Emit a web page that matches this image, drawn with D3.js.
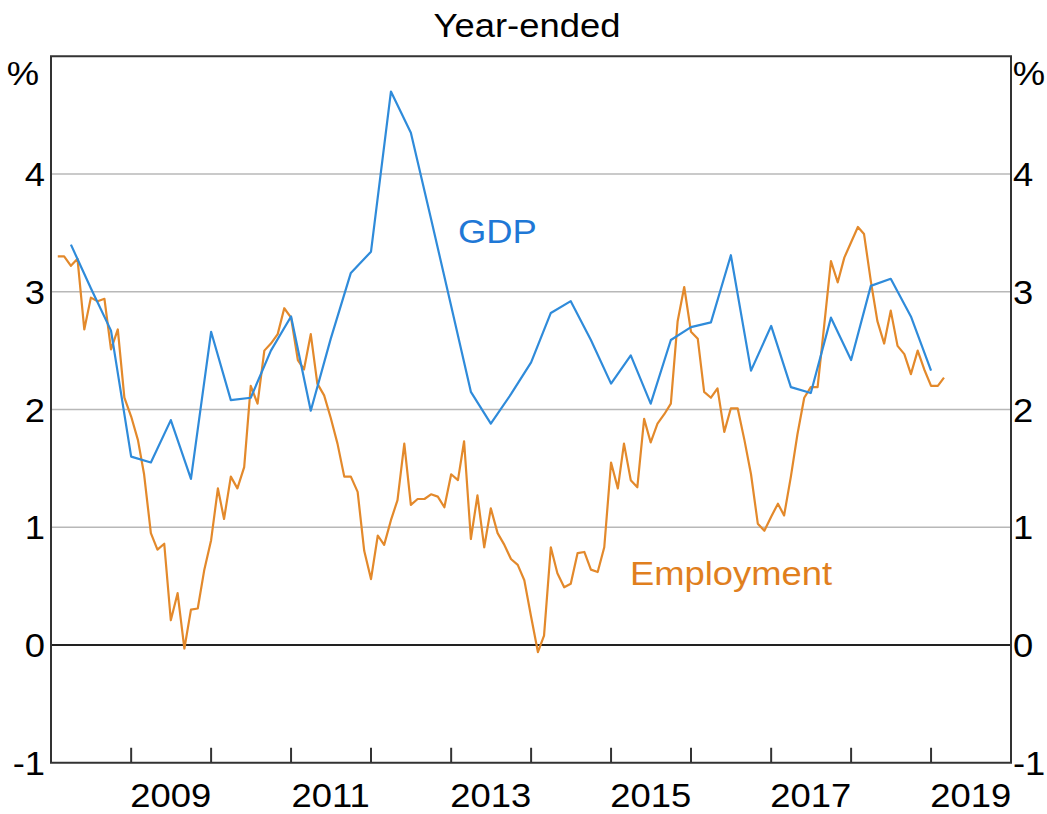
<!DOCTYPE html>
<html lang="en">
    <head>
        <meta charset="UTF-8">
        <title>GDP and Employment</title>
        <style>
            body { margin: 0; background: #fff; }
            text { font-family: "Liberation Sans", Arial, sans-serif; font-size: 34px; fill: #000; }
            .grid { stroke: #b8b8b8; stroke-width: 1.5; }
            .zero { stroke: #222; stroke-width: 2; }
            .frame { fill: none; stroke: #333; stroke-width: 2; }
            .tick { stroke: #333; stroke-width: 2; }
        </style>
    </head>
    <body>
        <script src="https://d3js.org/d3.v7.min.js"></script>
        <script>
            const width = 1047;
            const height = 814;

            // year-ended growth, %
            // employment: monthly, Jan 2008 - Feb 2019
            const employment = [
                3.30, 3.30, 3.22, 3.28, 2.68, 2.95, 2.92, 2.94, 2.51, 2.68, 2.10, 1.94,
                1.74, 1.45, 0.95, 0.81, 0.86, 0.21, 0.44, -0.03, 0.30, 0.31, 0.64, 0.89,
                1.33, 1.07, 1.43, 1.33, 1.51, 2.20, 2.05, 2.50, 2.56, 2.64, 2.86, 2.78,
                2.42, 2.34, 2.64, 2.22, 2.12, 1.93, 1.71, 1.43, 1.43, 1.30, 0.80, 0.56,
                0.93, 0.85, 1.06, 1.23, 1.71, 1.19, 1.24, 1.24, 1.28, 1.26, 1.17, 1.45,
                1.40, 1.73, 0.90, 1.27, 0.83, 1.16, 0.95, 0.85, 0.73, 0.68, 0.55, 0.24,
                -0.06, 0.08, 0.83, 0.61, 0.49, 0.52, 0.78, 0.79, 0.64, 0.62, 0.83, 1.55,
                1.33, 1.71, 1.40, 1.34, 1.92, 1.72, 1.88, 1.96, 2.05, 2.75, 3.04, 2.66,
                2.60, 2.15, 2.10, 2.18, 1.81, 2.01, 2.01, 1.74, 1.45, 1.03, 0.97, 1.09,
                1.20, 1.10, 1.43, 1.79, 2.10, 2.19, 2.19, 2.73, 3.26, 3.08, 3.29, 3.42,
                3.55, 3.49, 3.09, 2.75, 2.56, 2.84, 2.54, 2.47, 2.30, 2.50, 2.34, 2.20,
                2.20, 2.27
            ];
            // gdp: quarterly, Mar 2008 - Dec 2018
            const gdp = [
                3.40, 3.03, 2.67, 1.60, 1.55, 1.91, 1.41, 2.66, 2.08, 2.10, 2.50, 2.79,
                1.99, 2.60, 3.16, 3.34, 4.70, 4.35, 3.62, 2.88, 2.15, 1.88, 2.13, 2.40,
                2.82, 2.92, 2.59, 2.22, 2.46, 2.05, 2.59, 2.70, 2.74, 3.31, 2.33, 2.71,
                2.19, 2.14, 2.78, 2.42, 3.05, 3.11, 2.79, 2.33
            ];
            const yTicks = [-1, 0, 1, 2, 3, 4];
            const yearTicks = d3.range(2009, 2020);
            const yearLabels = [2009, 2011, 2013, 2015, 2017, 2019];

            // points sit at the end of their month / quarter
            const empDates = employment.map((d, i) => new Date(Date.UTC(2008, i + 1, 1)));
            const gdpDates = gdp.map((d, i) => new Date(Date.UTC(2008, 3 * i + 3, 1)));

            const plotLeft = 51, plotRight = 1011, plotTop = 56.25, plotBottom = 762.75;
            const stretch = 1.07; // the original lettering is a touch wider than Liberation Sans

            const svg = d3.select("body").append("svg")
                .attr("width", width)
                .attr("height", height);

            const x = d3.scaleUtc()
                .domain([new Date(Date.UTC(2008, 0, 1)), new Date(Date.UTC(2020, 0, 1))])
                .range([plotLeft, plotRight]);

            const y = d3.scaleLinear()
                .domain([-1, 5])
                .range([plotBottom, plotTop]);

            const place = (px, py) => `translate(${px},${py}) scale(${stretch},1)`;

            svg.append("text")
                .attr("transform", place(527, 37))
                .attr("text-anchor", "middle")
                .text("Year-ended");

            // gridlines
            svg.selectAll(".grid")
                .data([1, 2, 3, 4])
                .enter()
                .append("line")
                .attr("class", "grid")
                .attr("x1", plotLeft)
                .attr("x2", plotRight)
                .attr("y1", d => y(d))
                .attr("y2", d => y(d));

            svg.append("line")
                .attr("class", "zero")
                .attr("x1", plotLeft)
                .attr("x2", plotRight)
                .attr("y1", y(0))
                .attr("y2", y(0));

            // year ticks on the bottom edge
            svg.selectAll(".tick")
                .data(yearTicks)
                .enter()
                .append("line")
                .attr("class", "tick")
                .attr("x1", d => x(new Date(Date.UTC(d, 0, 1))))
                .attr("x2", d => x(new Date(Date.UTC(d, 0, 1))))
                .attr("y1", plotBottom)
                .attr("y2", plotBottom - 15);

            svg.append("rect")
                .attr("class", "frame")
                .attr("x", plotLeft)
                .attr("y", plotTop)
                .attr("width", plotRight - plotLeft)
                .attr("height", plotBottom - plotTop);

            // y labels on both sides
            svg.selectAll(".ylab-l")
                .data(yTicks)
                .enter()
                .append("text")
                .attr("class", "ylab-l")
                .attr("transform", d => place(45, y(d) + 12))
                .attr("text-anchor", "end")
                .text(d => d);

            svg.selectAll(".ylab-r")
                .data(yTicks)
                .enter()
                .append("text")
                .attr("class", "ylab-r")
                .attr("transform", d => place(1013, y(d) + 12))
                .attr("text-anchor", "start")
                .text(d => d);

            svg.append("text")
                .attr("transform", place(23, 85))
                .attr("text-anchor", "middle")
                .text("%");

            svg.append("text")
                .attr("transform", place(1029, 85))
                .attr("text-anchor", "middle")
                .text("%");

            svg.selectAll(".xlab")
                .data(yearLabels)
                .enter()
                .append("text")
                .attr("class", "xlab")
                .attr("transform", d => place(x(new Date(Date.UTC(d, 6, 1))), 807))
                .attr("text-anchor", "middle")
                .text(d => d);

            const line = d3.line()
                .x(d => x(d[0]))
                .y(d => y(d[1]));

            svg.append("path")
                .datum(d3.zip(empDates, employment))
                .attr("fill", "none")
                .attr("stroke", "#e3892b")
                .attr("stroke-width", 2.2)
                .attr("stroke-linejoin", "round")
                .attr("d", line);

            svg.append("path")
                .datum(d3.zip(gdpDates, gdp))
                .attr("fill", "none")
                .attr("stroke", "#2f8bda")
                .attr("stroke-width", 2.2)
                .attr("stroke-linejoin", "round")
                .attr("d", line);

            svg.append("text")
                .attr("transform", place(458, 243))
                .style("fill", "#1f78d6")
                .text("GDP");

            svg.append("text")
                .attr("transform", place(630, 585))
                .style("fill", "#e07f1e")
                .text("Employment");
        </script>
    </body>
</html>
